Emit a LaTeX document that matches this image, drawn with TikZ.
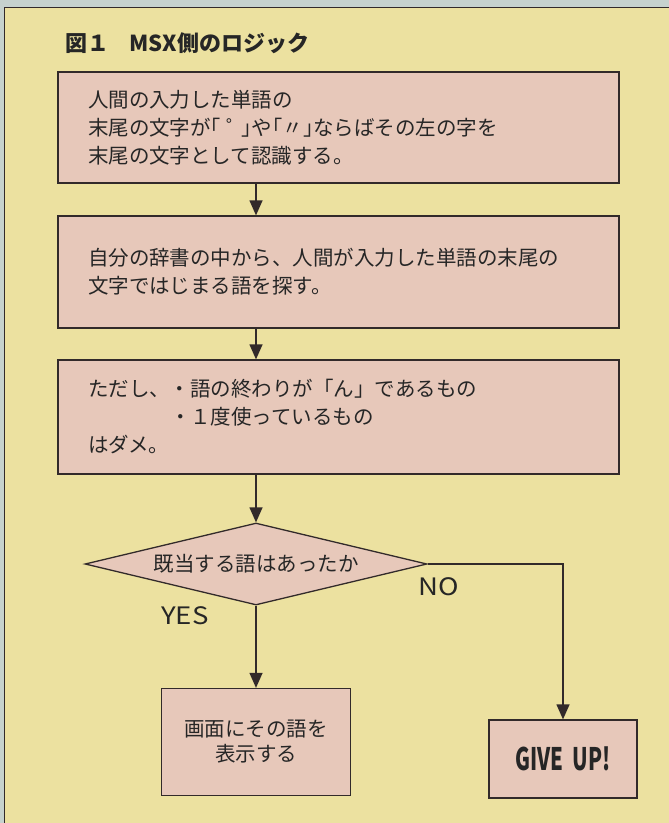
\documentclass[tikz,border=0pt]{standalone}
\usepackage{fontspec}
\setmainfont{Noto Sans CJK JP}
\usepackage{graphicx}
\usepackage{xcolor}
\usetikzlibrary{arrows.meta,shapes.geometric}
\definecolor{panelbg}{RGB}{236,225,160}
\definecolor{outerbg}{RGB}{198,210,206}
\definecolor{boxfill}{RGB}{231,200,186}
\definecolor{inkline}{RGB}{50,42,42}

\begin{document}
\begin{tikzpicture}[x=1pt,y=-1pt, every node/.style={font=\fontsize{20.5}{28}\selectfont, text=black!85},
  stepbox/.style={rectangle, draw=inkline, line width=1.3pt, fill=boxfill, inner xsep=30pt, inner ysep=0pt, minimum width=561pt, text width=501pt, align=left},
  endbox/.style={rectangle, draw=inkline, line width=1.3pt, fill=boxfill, inner sep=0pt, align=center},
  answer/.style={font=\fontsize{24}{24}\selectfont, xscale=1.15},
  flow/.style={draw=inkline, line width=1.3pt, -{Triangle[length=15pt,width=13pt]}}]
\useasboundingbox (0,0) rectangle (669,823);
\fill[outerbg] (0,0) rectangle (669,823);
\fill[panelbg] (4,7) rectangle (669,823);
\draw[inkline, line width=1pt] (4,823) -- (4,7) -- (669,7);
\node[anchor=west, font=\bfseries\fontsize{22}{26}\selectfont] (title) at (62,43) {図１\hspace{0.9em}MSX側のロジック};
% processing steps
\node[stepbox, minimum height=111pt] (b1) at (338.5,127.5) {人間の入力した単語の\\末尾の文字が｢\kern0.25em゜\kern-0.25em｣や｢〃｣ならばその左の字を\\末尾の文字として認識する。};
\node[stepbox, minimum height=112pt] (b2) at (338.5,272) {自分の辞書の中から、人間が入力した単語の末尾の\\文字ではじまる語を探す。};
\node[stepbox, minimum height=114pt] (b3) at (338.5,417) {ただし、・語の終わりが「ん」であるもの\\\hspace*{4em}・１度使っているもの\\はダメ。};
% decision
\node[diamond, draw=inkline, line width=1.3pt, fill=boxfill, aspect=4.17, minimum width=342pt, minimum height=82pt, inner sep=0pt] (dia) at (256,564) {既当する語はあったか};
\node[answer] (yes) at (185,616) {YES};
\node[answer] (no) at (439,587) {NO};
% results
\node[endbox, minimum width=189pt, minimum height=107pt, font=\fontsize{20.5}{25}\selectfont] (show) at (256,742) {画面にその語を\\表示する};
\node[endbox, minimum width=148pt, minimum height=78pt] (giveup) at (563,759) {\scalebox{0.66}[1]{\bfseries\fontsize{31}{31}\selectfont GIVE\ \ UP!}};
% connectors
\draw[flow] (b1.south -| dia.north) -- (b2.north -| dia.north);
\draw[flow] (b2.south -| dia.north) -- (b3.north -| dia.north);
\draw[flow] (b3.south -| dia.north) -- (dia.north);
\draw[flow] (dia.south) -- (show.north);
\draw[flow] (dia.east) -| (giveup.north);
\end{tikzpicture}
\end{document}
